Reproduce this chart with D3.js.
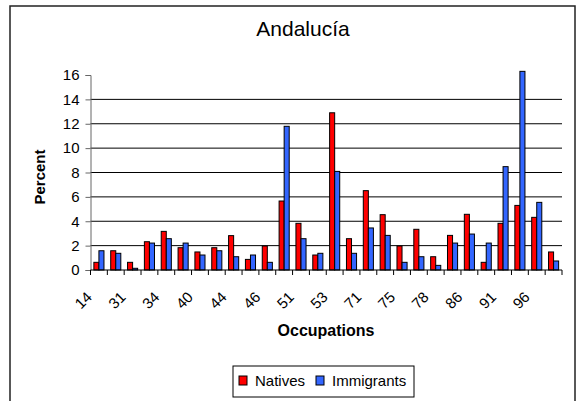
<!DOCTYPE html>
<html>
<head>
<meta charset="utf-8">
<script src="https://cdn.jsdelivr.net/npm/d3@7"></script>
<style>
  body { margin: 0; background: #fff; }
  text { font-family: Arial, "Liberation Sans", sans-serif; fill: #000; }
</style>
</head>
<body>
<div id="chart"></div>
<script>
// Data
const occupations = [
  "14", "20", "31", "33", "34", "35", "40", "43", "44", "45",
  "46", "50", "51", "52", "53", "60", "71", "72", "75", "77",
  "78", "79", "86", "90", "91", "93", "96", "97",
];
const natives = [
  0.63, 1.58, 0.63, 2.32, 3.17, 1.83, 1.48, 1.83, 2.82, 0.87,
  1.97, 5.66, 3.83, 1.23, 12.9, 2.57, 6.51, 4.54, 1.97, 3.34,
  1.09, 2.84, 4.57, 0.63, 3.83, 5.3, 4.32, 1.48,
];
const immigrants = [
  1.58, 1.37, 0.14, 2.21, 2.57, 2.21, 1.23, 1.58, 1.09, 1.23,
  0.63, 11.79, 2.57, 1.37, 8.09, 1.37, 3.45, 2.84, 0.63, 1.09,
  0.38, 2.21, 2.95, 2.21, 8.48, 16.3, 5.55, 0.74,
];
const seriesNames = ["Natives", "Immigrants"];
const seriesColors = ["#ff0000", "#3366ff"];
const yTicks = [0, 2, 4, 6, 8, 10, 12, 14, 16];

// Layout
const width = 577;
const height = 401;
const plot = { left: 90.5, right: 562, top: 75, bottom: 270 };

const svg = d3
  .select("#chart")
  .append("svg")
  .attr("width", width)
  .attr("height", height);

// Outer frame (runs past the bottom edge, as in the original)
svg
  .append("rect")
  .attr("x", 10)
  .attr("y", 6)
  .attr("width", 565)
  .attr("height", 420)
  .attr("fill", "none")
  .attr("stroke", "#222")
  .attr("stroke-width", 1.5);

// Scales
const x0 = d3
  .scaleBand()
  .domain(occupations)
  .range([plot.left, plot.right])
  .paddingInner(0.4)
  .paddingOuter(0.2);

const x1 = d3
  .scaleBand()
  .domain(seriesNames)
  .range([0, x0.bandwidth()]);

const y = d3.scaleLinear().domain([0, 16]).range([plot.bottom, plot.top]);

// Gridlines
svg
  .append("g")
  .selectAll("line")
  .data(yTicks.filter((t) => t > 0 && t < 16))
  .join("line")
  .attr("x1", plot.left)
  .attr("x2", plot.right)
  .attr("y1", (d) => y(d))
  .attr("y2", (d) => y(d))
  .attr("stroke", "#000")
  .attr("stroke-width", 1);

// Bars
const rows = occupations.map((occ, i) => ({
  occ,
  values: [natives[i], immigrants[i]],
}));

const groups = svg
  .append("g")
  .selectAll("g")
  .data(rows)
  .join("g")
  .attr("transform", (d) => `translate(${x0(d.occ)},0)`);

groups
  .selectAll("rect")
  .data((d) => d.values.map((v, k) => ({ key: seriesNames[k], value: v, k })))
  .join("rect")
  .attr("x", (d) => x1(d.key))
  .attr("y", (d) => y(d.value))
  .attr("width", x1.bandwidth())
  .attr("height", (d) => y(0) - y(d.value))
  .attr("fill", (d) => seriesColors[d.k])
  .attr("stroke", "#000")
  .attr("stroke-width", 1);

// Y axis
const yAxis = svg
  .append("g")
  .attr("transform", `translate(${plot.left},0)`)
  .call(d3.axisLeft(y).tickValues(yTicks).tickSize(5).tickPadding(6));
yAxis.select(".domain").attr("stroke", "#666");
yAxis.selectAll(".tick line").attr("stroke", "#666");
yAxis
  .selectAll(".tick text")
  .style("font-size", "15px")
  .style("font-family", "Arial, 'Liberation Sans', sans-serif");

// X axis: ticks on category boundaries
const xStep = x0.step();
const boundaries = d3.range(occupations.length + 1).map((i) => plot.left + i * xStep);

svg
  .append("line")
  .attr("x1", plot.left)
  .attr("x2", plot.right)
  .attr("y1", plot.bottom)
  .attr("y2", plot.bottom)
  .attr("stroke", "#000");

svg
  .append("g")
  .selectAll("line")
  .data(boundaries)
  .join("line")
  .attr("x1", (d) => d)
  .attr("x2", (d) => d)
  .attr("y1", plot.bottom)
  .attr("y2", plot.bottom + 5)
  .attr("stroke", "#000");

// Only every other label fits, as in the original
svg
  .append("g")
  .selectAll("text")
  .data(occupations.filter((d, i) => i % 2 === 0))
  .join("text")
  .attr("text-anchor", "end")
  .attr(
    "transform",
    (d) => `translate(${x0(d) + x0.bandwidth() / 2 - 6},${plot.bottom + 28}) rotate(-45)`,
  )
  .style("font-size", "15px")
  .text((d) => d);

// Titles
svg
  .append("text")
  .attr("x", 303)
  .attr("y", 36)
  .attr("text-anchor", "middle")
  .style("font-size", "21px")
  .text("Andalucía");

svg
  .append("text")
  .attr("transform", "translate(45,177) rotate(-90)")
  .attr("text-anchor", "middle")
  .style("font-size", "15px")
  .style("font-weight", "bold")
  .text("Percent");

svg
  .append("text")
  .attr("x", 326)
  .attr("y", 336)
  .attr("text-anchor", "middle")
  .style("font-size", "16px")
  .style("font-weight", "bold")
  .text("Occupations");

// Legend
const legend = svg.append("g").attr("transform", "translate(233,366)");
legend
  .append("rect")
  .attr("width", 181)
  .attr("height", 31)
  .attr("fill", "#fff")
  .attr("stroke", "#000");

const legendX = [6, 83];
const legendItems = legend
  .selectAll("g")
  .data(seriesNames)
  .join("g")
  .attr("transform", (d, i) => `translate(${legendX[i]},0)`);

legendItems
  .append("rect")
  .attr("x", 0)
  .attr("y", 10)
  .attr("width", 8)
  .attr("height", 9)
  .attr("fill", (d, i) => seriesColors[i])
  .attr("stroke", "#000");

legendItems
  .append("text")
  .attr("x", 16)
  .attr("y", 20)
  .style("font-size", "15px")
  .text((d) => d);
</script>
</body>
</html>
